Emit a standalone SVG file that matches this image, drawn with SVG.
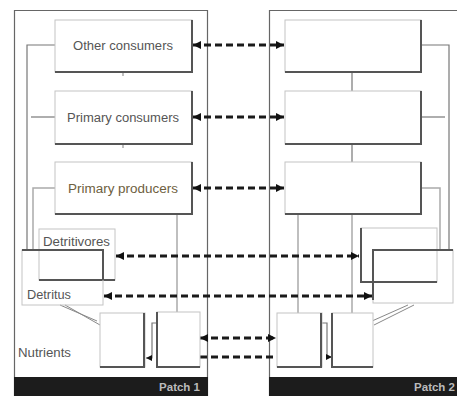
<svg xmlns="http://www.w3.org/2000/svg" width="457" height="396" viewBox="0 0 457 396">
<defs>
<marker id="ah" viewBox="0 0 8 8" refX="8" refY="4" markerWidth="8" markerHeight="8" markerUnits="userSpaceOnUse" orient="auto-start-reverse">
<path d="M0,0 L8,4 L0,8 z" fill="#111"/>
</marker>
<marker id="sh" viewBox="0 0 6 6" refX="6" refY="3" markerWidth="6" markerHeight="6" markerUnits="userSpaceOnUse" orient="auto">
<path d="M0,0 L6,3 L0,6 z" fill="#111"/>
</marker>
</defs>
<style>
.frame{fill:none;stroke:#666;stroke-width:1.2}
.box{fill:#fff;stroke:#c4c4c4;stroke-width:1}
.thin{fill:none;stroke:#888;stroke-width:1}
.sh{fill:none;stroke:#555;stroke-width:2}
.ln{fill:none;stroke:#777;stroke-width:1.2}
.lg{fill:none;stroke:#aaa;stroke-width:1.5}
.dash{fill:none;stroke:#1a1a1a;stroke-width:2.8;stroke-dasharray:7 4}
.t{font-family:"Liberation Sans",Arial,sans-serif;font-size:12px;fill:#555}
.bar{fill:#1c1c1c}
.pt{font-family:"Liberation Sans",Arial,sans-serif;font-size:11.5px;fill:#bbb;font-weight:bold}
</style>
<rect width="457" height="396" fill="#fff"/>

<g id="patch1-frame">
<path class="frame" d="M14.5,396 V10.5 H207.5 V396"/>
<rect class="bar" x="14" y="377" width="194" height="19"/>
<text class="pt" x="200" y="391" text-anchor="end">Patch 1</text>
</g>
<g id="patch2-frame">
<path class="frame" d="M269.5,396 V10.5 H457"/>
<rect class="bar" x="269" y="377" width="188" height="19"/>
<text class="pt" x="455" y="391" text-anchor="end">Patch 2</text>
</g>

<g id="connectors">
<path class="ln" d="M55,45 H27 V250"/>
<path class="ln" d="M55,117 H31"/>
<path class="lg" d="M55,188 H33 V250"/>
<path class="lg" d="M123,72 V76 M123,144 V148"/>
<path class="lg" d="M177,214 V312"/>
<path class="thin" d="M65,305 L100,325 M60,305 L97,321"/>
<path class="ln" d="M157,323 H152 V358 H146" marker-end="url(#sh)"/>
<path class="ln" d="M352,72 V91 M352,144 V162"/>
<path class="ln" d="M421,45 H449 V250"/>
<path class="ln" d="M421,117 H445"/>
<path class="lg" d="M421,188 H440 V250"/>
<path class="lg" d="M298,214 V313 M352,214 V313"/>
<path class="thin" d="M414,305 L374,325 M408,305 L372,321"/>
<path class="ln" d="M322,323 H327 V357 H332" marker-end="url(#sh)"/>
<line class="dash" x1="193" y1="45" x2="284" y2="45" marker-start="url(#ah)" marker-end="url(#ah)"/>
<line class="dash" x1="193" y1="117" x2="284" y2="117" marker-start="url(#ah)" marker-end="url(#ah)"/>
<line class="dash" x1="193" y1="188" x2="284" y2="188" marker-start="url(#ah)" marker-end="url(#ah)"/>
<line class="dash" x1="116" y1="256" x2="359" y2="256" marker-start="url(#ah)" marker-end="url(#ah)"/>
<line class="dash" x1="104" y1="296" x2="372" y2="296" marker-start="url(#ah)" marker-end="url(#ah)"/>
<line class="dash" x1="200" y1="338" x2="276" y2="338" marker-start="url(#ah)" marker-end="url(#ah)"/>
<line class="dash" x1="200" y1="357" x2="276" y2="357"/>
</g>

<g id="p1-other-consumers">
<rect class="box" x="55" y="20" width="137" height="52"/>
<path class="sh" d="M192,20 V72 H55"/>
<text class="t" x="123" y="50" text-anchor="middle" textLength="100" lengthAdjust="spacingAndGlyphs">Other consumers</text>
</g>
<g id="p1-primary-consumers">
<rect class="box" x="55" y="91" width="137" height="53"/>
<path class="sh" d="M192,91 V144 H55"/>
<text class="t" x="123" y="122" text-anchor="middle" textLength="112" lengthAdjust="spacingAndGlyphs">Primary consumers</text>
</g>
<g id="p1-primary-producers">
<rect class="box" x="55" y="162" width="137" height="52"/>
<path class="sh" d="M192,162 V214 H55"/>
<text class="t" x="123" y="193" text-anchor="middle" textLength="110" lengthAdjust="spacingAndGlyphs" style="fill:#6e6040">Primary producers</text>
</g>
<g id="p1-detritivores">
<rect class="box" x="39" y="229" width="76" height="51" style="fill:none"/>
<path class="sh" d="M39,280 H115"/>
<text class="t" x="43" y="246" textLength="67" lengthAdjust="spacingAndGlyphs">Detritivores</text>
</g>
<g id="p1-detritus">
<rect class="box" x="22" y="250" width="81" height="55" style="fill:none"/>
<path class="sh" d="M22,250 H103 V280"/>
<text class="t" x="27" y="299" textLength="44" lengthAdjust="spacingAndGlyphs">Detritus</text>
</g>
<g id="p1-nutrients">
<rect class="box" x="100" y="313" width="45" height="54"/>
<path class="sh" d="M144,313 V367 H100"/>
<rect class="box" x="157" y="312" width="43" height="55"/>
<path class="sh" d="M157,312 V367 H200"/>
<text class="t" x="18" y="357" textLength="53" lengthAdjust="spacingAndGlyphs">Nutrients</text>
</g>

<g id="p2-other-consumers">
<rect class="box" x="285" y="20" width="136" height="52"/>
<path class="sh" d="M421,20 V72 H285"/>
</g>
<g id="p2-primary-consumers">
<rect class="box" x="285" y="91" width="136" height="53"/>
<path class="sh" d="M421,91 V144 H285"/>
</g>
<g id="p2-primary-producers">
<rect class="box" x="285" y="162" width="136" height="52"/>
<path class="sh" d="M421,162 V214 H285"/>
</g>
<g id="p2-detritivores">
<rect class="box" x="361" y="228" width="76" height="54" style="fill:none"/>
<path class="sh" d="M361,228 V282 H437"/>
</g>
<g id="p2-detritus">
<rect class="box" x="373" y="250" width="80" height="53" style="fill:none"/>
<path class="sh" d="M373,300 V250 H453"/>
</g>
<g id="p2-nutrients">
<rect class="box" x="277" y="313" width="45" height="54"/>
<path class="sh" d="M321,313 V367 H277"/>
<rect class="box" x="332" y="313" width="41" height="54"/>
<path class="sh" d="M332,313 V367 H373"/>
</g>
</svg>
